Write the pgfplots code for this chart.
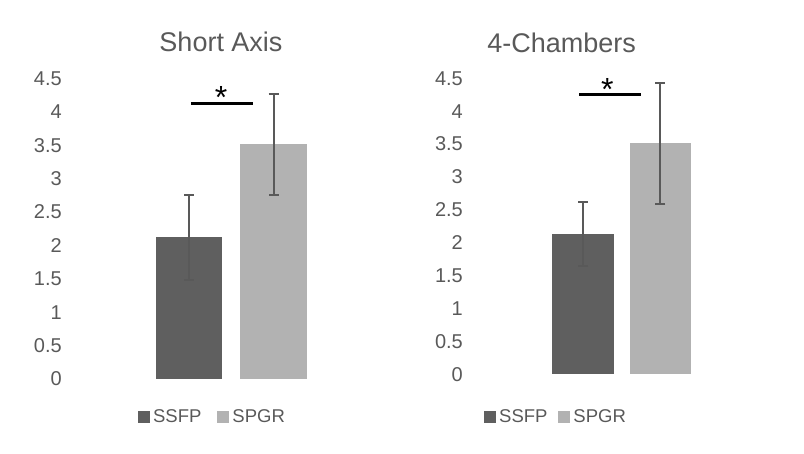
\documentclass[border=0pt]{standalone}
\usepackage{fontspec}
\setmainfont{Liberation Sans}
\usepackage{pgfplots}
\pgfplotsset{compat=1.18}
\definecolor{ssfp}{HTML}{5F5F5F}
\definecolor{spgr}{HTML}{B2B2B2}
\definecolor{txt}{HTML}{595959}
\definecolor{err}{HTML}{595959}
\pgfplotsset{
  panel/.style={
    scale only axis, anchor=south west,
    ybar,
    ymin=0, ymax=4.5, xmin=-1, xmax=1,
    ytick={0,0.5,1,1.5,2,2.5,3,3.5,4,4.5},
    xtick=\empty,
    axis line style={draw=none},
    major tick length=0pt,
    /pgf/number format/assume math mode=true,
    yticklabel style={font=\fontsize{20}{23}\selectfont, text=txt, anchor=east, inner sep=0pt, xshift=-8pt},
    clip=false,
    legend columns=2,
    legend style={draw=none, fill=none, inner sep=0pt, font=\fontsize{18.5}{21}\selectfont, text=txt,
      nodes={inner xsep=3pt, inner ysep=2pt}},
    legend image code/.code={\fill[##1,draw=none] (0pt,-6pt) rectangle (12pt,6pt);},
  },
  ebar/.style={error bars/.cd, y dir=both, y explicit,
    error bar style={draw=err, line width=2pt},
    error mark options={draw=err, rotate=90, mark size=5pt, line width=2pt}},
}
\begin{document}
\begin{tikzpicture}[x=1pt,y=1pt]
\useasboundingbox (0,0) rectangle (804,454);
% Left panel: Short Axis
\begin{axis}[panel, at={(70pt,75pt)}, width=322pt, height=300.7pt,
  legend style={at={(0.211,-0.125)}, anchor=west,
    /tikz/every even column/.append style={column sep=13pt}}]
  \addplot[bar width=66pt, bar shift=-42pt, fill=ssfp, draw=none, ebar]
    coordinates {(0,2.12) +- (0,0.64)};
  \addlegendentry{SSFP}
  \addplot[bar width=67pt, bar shift=42.5pt, fill=spgr, draw=none, ebar]
    coordinates {(0,3.51) +- (0,0.755)};
  \addlegendentry{SPGR}
  \addplot[sharp plot, black, line width=3pt, forget plot] coordinates {(-0.25,4.13) (0.135,4.13)};
  \node[anchor=north, inner sep=0pt, font=\fontsize{32}{36}\selectfont] at (axis cs:-0.062,4.385) {*};
\end{axis}
\node[anchor=base, inner sep=0pt, text=txt, font=\fontsize{27}{31}\selectfont] at (221,402.3) {Short Axis};
% Right panel: 4-Chambers
\begin{axis}[panel, at={(471pt,79.7pt)}, width=301.4pt, height=296pt,
  legend style={at={(0.043,-0.143)}, anchor=west,
    /tikz/every even column/.append style={column sep=8pt}}]
  \addplot[bar width=61.5pt, bar shift=-38.7pt, fill=ssfp, draw=none, ebar]
    coordinates {(0,2.13) +- (0,0.485)};
  \addlegendentry{SSFP}
  \addplot[bar width=61pt, bar shift=38.7pt, fill=spgr, draw=none, ebar]
    coordinates {(0,3.51) +- (0,0.925)};
  \addlegendentry{SPGR}
  \addplot[sharp plot, black, line width=3pt, forget plot] coordinates {(-0.283,4.26) (0.128,4.26)};
  \node[anchor=north, inner sep=0pt, font=\fontsize{32}{36}\selectfont] at (axis cs:-0.096,4.50) {*};
\end{axis}
\node[anchor=base, inner sep=0pt, text=txt, font=\fontsize{27}{31}\selectfont] at (561.7,401.7) {4-Chambers};
\end{tikzpicture}
\end{document}
